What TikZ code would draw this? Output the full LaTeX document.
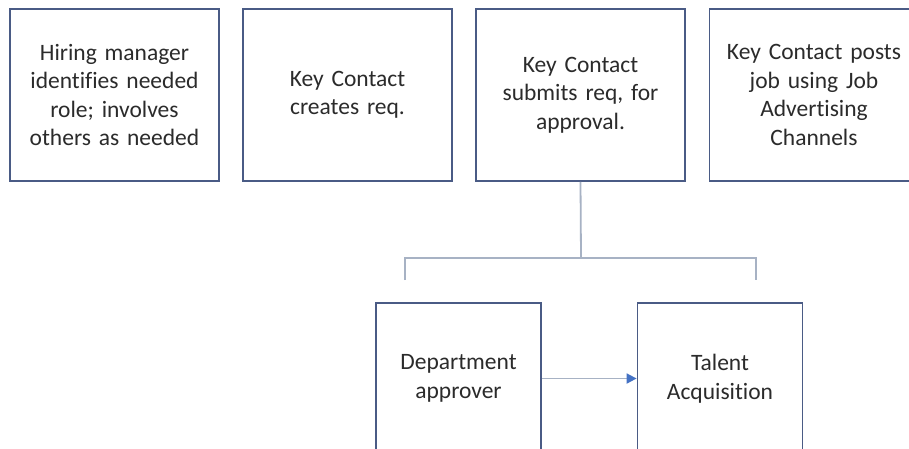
\documentclass[tikz,border=0pt]{standalone}
\usepackage{fontspec}
\setmainfont[Ligatures={NoCommon}]{Carlito}
\usetikzlibrary{arrows.meta}
\definecolor{boxline}{HTML}{4A5B85}
\definecolor{conn}{HTML}{A7B2C4}
\definecolor{arr}{HTML}{4472C4}
\definecolor{txt}{HTML}{2B2B2B}
\tikzset{
  stepbox/.style={draw=boxline, line width=1.8pt, fill=white, align=center, text=txt,
    inner sep=0pt, font=\fontsize{23.5}{28.5}\selectfont},
  topbox/.style={stepbox, minimum width=209pt, minimum height=172pt, text width=195pt},
  lowbox/.style={stepbox, minimum width=165pt, minimum height=151pt, text width=150pt},
  conn/.style={draw=conn, line width=1.8pt},
  arrowline/.style={draw=conn, line width=1.8pt, -{Triangle[length=10pt,width=10pt,fill=arr,color=arr]}}
}
\begin{document}
\begin{tikzpicture}[x=1pt,y=-1pt]
\useasboundingbox (0,0) rectangle (909,448);
\fill[white] (0,0) rectangle (909,448);
\clip (0,0) rectangle (909,448);
\node[topbox] (a) at (114.5,95) {Hiring manager\\identifies needed\\role; involves\\others as needed};
\node[topbox] (b) at (347.5,95) {Key Contact\\creates req.};
\node[topbox] (c) at (580.5,95) {Key Contact\\submits req, for\\approval.};
\node[topbox] (d) at (814,95) {Key Contact posts\\job using Job\\Advertising\\Channels};
\node[lowbox] (e) at (458.5,378.5) {Department\\approver};
\node[lowbox] (f) at (720,378.5) {Talent\\Acquisition};
\coordinate (j) at (581,258);
\coordinate (jl) at (405,258);
\coordinate (jr) at (756,258);
\draw[conn] (c.south) -- (j);
\draw[conn] (405,280) -- (jl) -- (jr) -- (756,280);
\draw[arrowline] (e.east) -- (f.west);
\end{tikzpicture}
\end{document}
